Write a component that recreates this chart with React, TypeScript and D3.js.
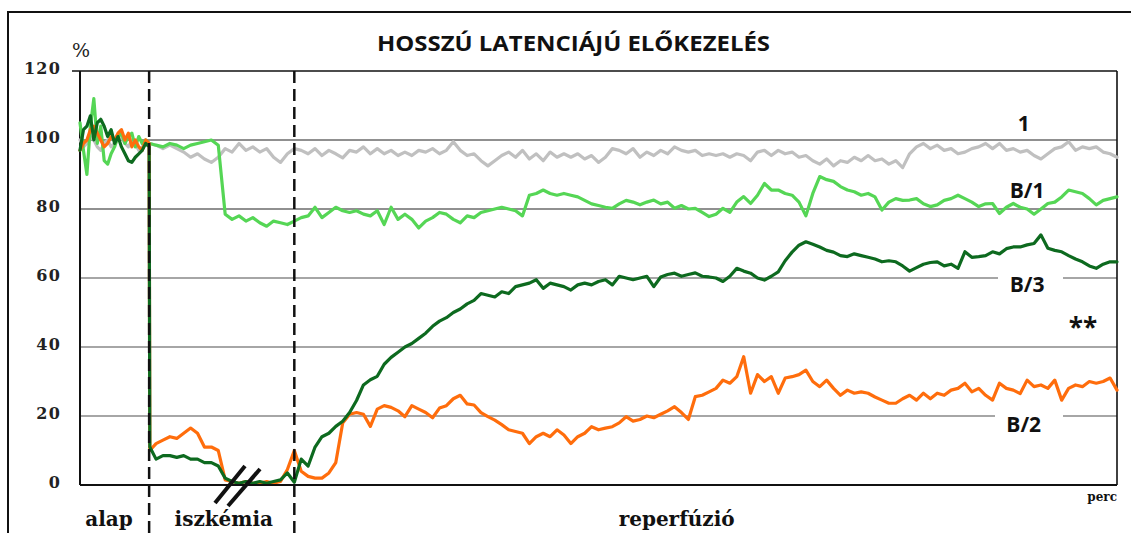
import React from "react";
import * as d3 from "d3";

// ---- data ----
const yTicks = [0, 20, 40, 60, 80, 100, 120];
const phaseBounds = [10, 31]; // end of "alap", end of "iszkémia" (perc)
const phaseLabels = ["alap", "iszkémia", "reperfúzió"];
const phaseLabelPos = [4.2, 20.8, 86.3];

// time grid: baseline sampled every 0.5, then 10.1, 11..150
const alapTimes = d3.range(0, 10.25, 0.5);
const mainTimes = [10.1, ...d3.range(11, 151)];

const greyAlap = [100, 98, 99, 101, 100, 98, 97, 99, 100, 98, 99, 100, 101, 99, 98, 100, 99, 97, 98, 99, 98];
const greyMain = [99,
  98.5, 97.5, 98.5, 97.5, 96.5, 95, 96, 94.5, 93.5, 95,
  97.5, 96.5, 99, 97, 98, 96.5, 97.5, 95, 93.5, 96,
  97.5, 97, 96, 97.5, 95.5, 97, 96, 94.8, 97, 96.5,
  98, 96, 97.5, 96, 97, 95.5, 96.5, 95.5, 97, 96.5,
  97.5, 96, 97, 99.5, 97, 95.5, 96, 94, 92.5, 94,
  95.5, 96.5, 95, 97, 94.5, 96, 94, 96.5, 95, 96,
  95, 96, 94.5, 95.5, 93.5, 95, 97.5, 97, 96, 97.5,
  95, 96.5, 95.5, 97, 96, 98, 97, 96.5, 97, 95.5,
  96, 95.5, 96, 95, 96, 95.5, 94, 96.5, 97, 95.5,
  97, 96, 96.5, 95, 95.5, 94, 93, 94.5, 92.5, 94,
  93.5, 95, 94, 95.5, 94, 94.5, 93, 94, 92, 96,
  98, 99, 97.5, 98.5, 97, 97.5, 96, 96.5, 97.5, 98,
  99, 97.5, 99, 97, 97.5, 96.5, 97, 95.5, 94.5, 96,
  97.5, 98, 99.5, 97, 98, 97.5, 98, 96.5, 96, 95];

const b1Alap = [105, 97, 90, 104, 112, 99, 104, 94, 93, 96, 98, 101, 102, 99, 101, 102, 98, 101, 99, 100, 99];
const b1Main = [99,
  98.5, 98, 99, 98.5, 97.5, 98.5, 99, 99.5, 100, 98.5,
  78.5, 77, 78, 76.5, 77.5, 76, 75, 76.5, 76, 75.5,
  76.5, 77.5, 78, 80.5, 77.5, 79, 80.5, 79.5, 79, 79.5,
  78.5, 78, 79.5, 75.5, 80.5, 77, 78.5, 77, 74.5, 76.5,
  77.5, 79, 78.5, 77, 76, 78, 77.5, 79, 79.5, 80,
  80.5, 80, 79.5, 78, 84, 84.5, 85.5, 84.5, 84, 84.5,
  84, 83.5, 82.5, 81.5, 81, 80.5, 80.2, 81.5, 82.5, 82,
  81.2, 82, 82.6, 81.5, 82, 80.2, 81, 80, 80.2, 79,
  77.8, 78.5, 80.2, 79, 82, 83.6, 81.6, 84, 87.4, 85.5,
  85.5, 84.5, 84, 82, 78, 84.5, 89.4, 88.5, 88, 86.5,
  85.5, 85, 84, 84.5, 83.5, 79.7, 82, 83, 82.5, 82.6,
  83, 81.5, 80.7, 81.2, 82.5, 83, 84, 83, 82, 80.7,
  81.5, 81.6, 78.7, 80.5, 81.6, 80.5, 80, 78.5, 80, 81.6,
  82, 83.5, 85.5, 85, 84.5, 83, 81.2, 82.5, 83, 83.5];

const b3Alap = [97, 103, 104, 107, 100, 105, 106, 104, 101, 103, 99, 101, 98, 96, 94, 93.5, 95, 96, 97, 99, 98];
const b3Main = [11,
  7.5, 8.5, 8.5, 8, 8.5, 7.5, 7.5, 6.5, 6.5, 5.5,
  2, 1, 0.5, 1, 0.5, 1, 0.5, 1, 1.5, 3.5,
  0.8, 7.5, 5.5, 11, 14, 15, 17, 18.5, 21, 24.5,
  29, 30.5, 31.5, 35, 37, 38.5, 40, 41, 42.5, 44,
  46, 47.5, 48.5, 50, 51, 52.5, 53.5, 55.5, 55, 54.5,
  56, 55.5, 57.5, 58, 58.5, 59.5, 57, 58.5, 58, 57.5,
  56.5, 58, 58.5, 58, 59, 59.5, 58, 60.5, 60, 59.5,
  60, 60.5, 57.5, 60.3, 61, 61.4, 60.5, 61, 61.5, 60.5,
  60.3, 60, 59, 60.5, 62.8, 62, 61.4, 60, 59.4, 60.5,
  61.8, 65, 67.5, 69.5, 70.5, 69.8, 69, 68, 67.5, 66.5,
  66.2, 67, 66.5, 66, 65.5, 64.7, 65, 64.7, 63.5, 62,
  63, 64, 64.5, 64.7, 63.5, 64, 62.8, 67.6, 66, 66.2,
  66.5, 67.6, 67, 68.5, 69, 69, 69.6, 70, 72.5, 68.6,
  68, 67.6, 66.5, 65.5, 64.7, 63.5, 62.8, 64, 64.7, 64.7];

const b2Alap = [97, 99, 100, 103, 104, 102, 100, 98, 99, 101, 100, 102, 103, 100, 102, 98, 100, 98, 97, 100, 99];
const b2Main = [10,
  12, 13, 14, 13.5, 15, 16.5, 15, 11, 11, 10,
  1.5, 1, 0.5, 1, 0.5, 0.5, 1, 0.5, 1, 4.5,
  10, 4, 2.5, 2, 2, 3.5, 6.5, 18, 20.5, 21,
  20.5, 17, 22, 23, 22.5, 21.5, 19.8, 23, 22, 21,
  19.5, 22.3, 23, 25, 26, 23.5, 23.2, 21, 19.8, 18.8,
  17.5, 16, 15.5, 15, 12, 14, 15, 14, 16, 14.5,
  12, 14, 15, 16.9, 16, 16.5, 16.9, 18, 19.8, 18.5,
  19, 20, 19.5, 20.5, 21.5, 22.7, 21, 19, 25.6, 26,
  27, 28, 30.4, 29.5, 31.4, 37.2, 26.6, 32, 30, 31.4,
  26.6, 31, 31.4, 32, 33.3, 30, 28.5, 30.4, 28, 26,
  27.5, 26.6, 27, 26.6, 25.5, 24.6, 23.7, 23.7, 25, 26,
  24.6, 26.6, 25, 26.6, 26, 27.5, 28, 29.5, 27, 28,
  26, 24.6, 29.5, 28, 27.5, 26.5, 30.4, 28.5, 29, 28,
  30.4, 24.6, 28, 29, 28.5, 30, 29.5, 30, 31, 27.5];

const seriesNames = ["1", "B/1", "B/2", "B/3"];
const seriesColors = ["#c0c0c0", "#55d655", "#ff6d0c", "#0d6a1f"];
const seriesAlap = [greyAlap, b1Alap, b2Alap, b3Alap];
const seriesMain = [greyMain, b1Main, b2Main, b3Main];

// label anchors: [time, value]
const seriesLabelAt: Record<string, [number, number]> = {
  "1": [136.5, 102.6],
  "B/1": [137, 83.3],
  "B/3": [137, 55.8],
  "B/2": [136.5, 15.3],
};

export default function App() {
  const W = 1131, H = 533;
  const x = d3.scaleLinear().domain([0, 150]).range([80, 1117]);
  const y = d3.scaleLinear().domain([0, 120]).range([485, 71]);
  const line = d3.line<[number, number]>().x(d => x(d[0])).y(d => y(d[1]));

  const series = seriesNames.map((name, i) => {
    const pts: [number, number][] = [
      ...alapTimes.map((t, j) => [t, seriesAlap[i][j]] as [number, number]),
      ...mainTimes.map((t, j) => [t, seriesMain[i][j]] as [number, number]),
    ].filter(p => p[1] !== undefined);
    return { name, color: seriesColors[i], pts };
  });

  const serif = "'DejaVu Serif', serif";
  const sans = "'Open Sans', 'Noto Sans', sans-serif";

  return (
    <svg width={W} height={H} style={{ position: "absolute", left: 0, top: 0, background: "#fff" }}>
      <rect x={0} y={0} width={W} height={H} fill="#fff" />
      {/* outer frame */}
      <rect x={8} y={12} width={1200} height={600} fill="none" stroke="#111" strokeWidth={2} />
      {/* title */}
      <text x={573.5} y={51} textAnchor="middle" fontFamily={sans} fontWeight={700} fontSize={22}
        textLength={393} lengthAdjust="spacingAndGlyphs" fill="#111">HOSSZÚ LATENCIÁJÚ ELŐKEZELÉS</text>
      <text x={81} y={57} textAnchor="middle" fontFamily={serif} fontSize={19} fill="#222">%</text>

      {/* gridlines */}
      {yTicks.filter(v => v > 0 && v < 120).map(v => (
        <line key={v} x1={x(0)} x2={x(150)} y1={y(v)} y2={y(v)}
          stroke={v >= 80 ? "#222" : "#888"} strokeWidth={v >= 80 ? 1.2 : 1.6} />
      ))}
      {/* top & frame of plot */}
      <line x1={72} x2={x(150)} y1={y(120)} y2={y(120)} stroke="#111" strokeWidth={1.6} />
      <line x1={x(150)} x2={x(150)} y1={y(120)} y2={y(0)} stroke="#111" strokeWidth={1.6} />
      <line x1={x(0)} x2={x(0)} y1={y(120)} y2={y(0)} stroke="#111" strokeWidth={2} />

      {/* y tick labels */}
      {yTicks.map(v => (
        <text key={v} x={61} y={y(v) + 2.5} textAnchor="end" fontFamily={serif} fontWeight={700}
          fontSize={16} letterSpacing={1.2} fill="#222">{v}</text>
      ))}

      {/* label background gaps */}
      <rect x={998} y={y(60) - 3} width={65} height={6} fill="#fff" />
      <rect x={995} y={y(20) - 3} width={68} height={6} fill="#fff" />

      {/* series */}
      {series.map(s => (
        <path key={s.name} d={line(s.pts) || ""} fill="none" stroke={s.color} strokeWidth={3.2}
          strokeLinejoin="round" strokeLinecap="round" />
      ))}

      {/* x axis */}
      <line x1={x(0)} x2={x(150)} y1={y(0)} y2={y(0)} stroke="#111" strokeWidth={2} />

      {/* phase separators */}
      {phaseBounds.map(t => (
        <line key={t} x1={x(t)} x2={x(t)} y1={y(120)} y2={H} stroke="#111" strokeWidth={2.5}
          strokeDasharray="12,6" />
      ))}

      {/* axis break marks */}
      <line x1={215} y1={503} x2={245} y2={466} stroke="#111" strokeWidth={4} />
      <line x1={228} y1={506} x2={260} y2={469} stroke="#111" strokeWidth={4} />

      {/* phase labels */}
      {phaseLabels.map((lab, i) => (
        <text key={lab} x={x(phaseLabelPos[i])} y={526} textAnchor="middle" fontFamily={serif}
          fontWeight={700} fontSize={20} fill="#111">{lab}</text>
      ))}
      <text x={1117} y={501} textAnchor="end" fontFamily={serif} fontWeight={700} fontSize={12} fill="#111">perc</text>

      {/* series labels */}
      {seriesNames.map(n => (
        <text key={n} x={x(seriesLabelAt[n][0])} y={y(seriesLabelAt[n][1])} textAnchor="middle"
          fontFamily={sans} fontWeight={700} fontSize={21} fill="#111">{n}</text>
      ))}
      <text x={1083} y={337} textAnchor="middle" fontFamily={sans} fontWeight={700} fontSize={26} fill="#111">**</text>
    </svg>
  );
}
